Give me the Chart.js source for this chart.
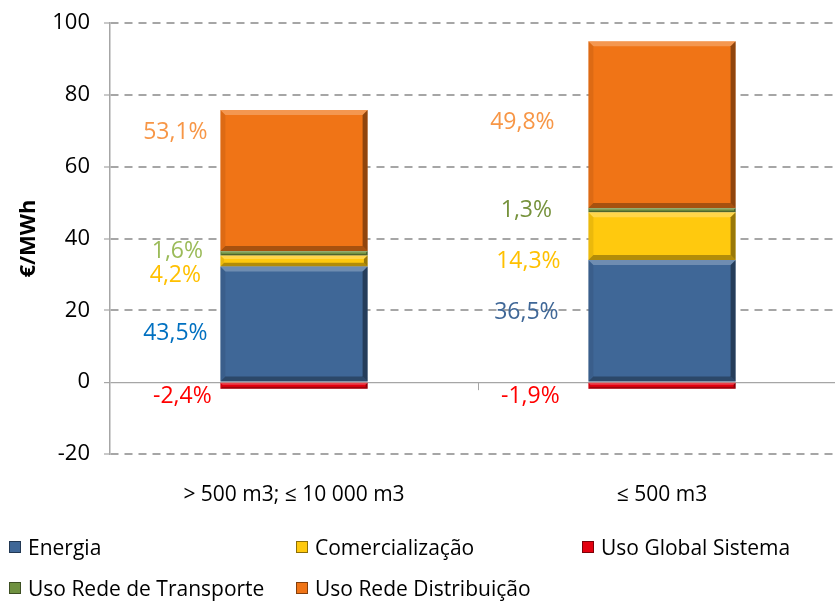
<!DOCTYPE html>
<html>
<head>
<meta charset="utf-8">
<script src="https://cdn.jsdelivr.net/npm/chart.js@4/dist/chart.umd.min.js"></script>
<style>
  html, body { margin: 0; padding: 0; background: #fff; width: 835px; height: 601px; overflow: hidden; }
  #wrap { position: relative; width: 860px; height: 601px; }
  #legend { position: absolute; left: 0; top: 0; width: 835px; height: 601px; pointer-events: none;
            font-family: 'Open Sans', sans-serif; font-size: 21px; color: #000; }
  .item { position: absolute; display: flex; align-items: center; white-space: nowrap; line-height: 24px; }
  .sw { width: 12px; height: 12px; margin-right: 7px; box-sizing: border-box; border: 1px solid rgba(0,0,0,0.45); }
</style>
</head>
<body>
<div id="wrap">
  <canvas id="c" width="860" height="601"></canvas>
  <div id="legend"></div>
</div>
<script>
// ---- data ----
const categories = ['> 500 m3; ≤ 10 000 m3', '≤ 500 m3'];
const seriesNames = ['Energia', 'Comercialização', 'Uso Global Sistema', 'Uso Rede de Transporte', 'Uso Rede Distribuição'];
const energia      = [32.2, 34.0];
const comercial    = [3.1, 13.3];
const usoGlobal    = [-1.8, -1.8];
const transporte   = [1.2, 1.2];
const distribuicao = [39.3, 46.4];
const pctEnergia      = [43.5, 36.5];
const pctComercial    = [4.2, 14.3];
const pctUsoGlobal    = [-2.4, -1.9];
const pctTransporte   = [1.6, 1.3];
const pctDistribuicao = [53.1, 49.8];
const yTicks = [-20, 0, 20, 40, 60, 80, 100];

// ---- styles ----
const fills = ['#3F6797', '#FFC90E', '#E3000F', '#6F9140', '#F07416'];
const labelColors = [
  ['#0070C0', '#3F6797'],
  ['#FFC000', '#FFC000'],
  ['#FF0000', '#FF0000'],
  ['#9BBB59', '#76923C'],
  ['#F79646', '#F79646']
];
// label placement: [distance left of bar edge to text centre, vertical shift from segment centre]
const labelPlacement = [
  [[45, 9], [62, -8]],
  [[45, 15], [60, 25]],
  [[38, 11], [58, 11]],
  [[43, -2], [62, 0]],
  [[45, -48], [66, -2]]
];

const values = [energia, comercial, usoGlobal, transporte, distribuicao];
const pcts = [pctEnergia, pctComercial, pctUsoGlobal, pctTransporte, pctDistribuicao];

Chart.defaults.font.family = "'Open Sans', sans-serif";
Chart.defaults.color = '#000';

const pctLabels = {
  id: 'pctLabels',
  afterDatasetsDraw(chart) {
    const ctx = chart.ctx;
    ctx.save();
    ctx.font = "23px 'Open Sans', sans-serif";
    ctx.textAlign = 'center';
    ctx.textBaseline = 'middle';
    chart.data.datasets.forEach((ds, di) => {
      const meta = chart.getDatasetMeta(di);
      meta.data.forEach((bar, i) => {
        const p = bar.getProps(['x', 'y', 'base', 'width'], true);
        const pl = labelPlacement[di][i];
        ctx.fillStyle = labelColors[di][i];
        const txt = pcts[di][i].toFixed(1).replace('.', ',') + '%';
        ctx.fillText(txt, p.x - p.width / 2 - pl[0], (p.y + p.base) / 2 + pl[1]);
      });
    });
    ctx.restore();
  }
};

const axisExtras = {
  id: 'axisExtras',
  afterDraw(chart) {
    const ctx = chart.ctx;
    const xs = chart.scales.x, ys = chart.scales.y;
    const y0 = ys.getPixelForValue(0);
    const xm = (xs.getPixelForTick(0) + xs.getPixelForTick(1)) / 2;
    ctx.save();
    ctx.strokeStyle = '#A6A6A6';
    ctx.lineWidth = 1;
    ctx.beginPath();
    ctx.moveTo(Math.round(xm) + 0.5, y0);
    ctx.lineTo(Math.round(xm) + 0.5, y0 + 8);
    ctx.stroke();
    ctx.restore();
  }
};

const bevel = {
  id: 'bevel',
  afterDatasetsDraw(chart) {
    const ctx = chart.ctx;
    chart.data.datasets.forEach((ds, di) => {
      chart.getDatasetMeta(di).data.forEach((bar) => {
        const p = bar.getProps(['x', 'y', 'base', 'width'], true);
        const l = p.x - p.width / 2, r = p.x + p.width / 2;
        const t = Math.min(p.y, p.base), b = Math.max(p.y, p.base);
        const h = b - t;
        const e = Math.min(5, h / 3);
        ctx.save();
        ctx.fillStyle = 'rgba(255,255,255,0.25)';
        ctx.beginPath(); ctx.moveTo(l, t); ctx.lineTo(r, t); ctx.lineTo(r - e, t + e); ctx.lineTo(l + e, t + e); ctx.closePath(); ctx.fill();
        ctx.fillStyle = 'rgba(0,0,0,0.4)';
        ctx.beginPath(); ctx.moveTo(r, t); ctx.lineTo(r, b); ctx.lineTo(r - e, b - e); ctx.lineTo(r - e, t + e); ctx.closePath(); ctx.fill();
        ctx.fillStyle = 'rgba(0,0,0,0.3)';
        ctx.beginPath(); ctx.moveTo(l, b); ctx.lineTo(r, b); ctx.lineTo(r - e, b - e); ctx.lineTo(l + e, b - e); ctx.closePath(); ctx.fill();
        ctx.fillStyle = 'rgba(0,0,0,0.08)';
        ctx.beginPath(); ctx.moveTo(l, t); ctx.lineTo(l, b); ctx.lineTo(l + e, b - e); ctx.lineTo(l + e, t + e); ctx.closePath(); ctx.fill();
        ctx.restore();
      });
    });
  }
};

new Chart(document.getElementById('c'), {
  type: 'bar',
  data: {
    labels: categories,
    datasets: seriesNames.map((n, i) => ({
      label: n,
      data: values[i],
      backgroundColor: fills[i],
      borderWidth: 0,
      categoryPercentage: 1,
      barPercentage: 0.4,
      stack: 's'
    }))
  },
  options: {
    responsive: false,
    animation: false,
    layout: { padding: { top: 23, right: 14, left: 0, bottom: 0 } },
    plugins: { legend: { display: false }, tooltip: { enabled: false } },
    scales: {
      x: {
        stacked: true,
        grid: { display: false },
        border: { display: false },
        ticks: { font: { size: 21 }, color: '#000', padding: 20, maxRotation: 0 },
        afterFit(s) { s.height = 147; }
      },
      y: {
        stacked: true,
        min: -20, max: 100,
        afterBuildTicks(s) { s.ticks = yTicks.map(v => ({ value: v })); },
        ticks: { font: { size: 22, lineHeight: 0.5 }, color: '#000', padding: 14 },
        grid: {
          color: '#A6A6A6',
          lineWidth: (c) => (c.tick && c.tick.value === 0 ? 1.2 : 2),
          tickLength: 6,
          tickColor: '#A6A6A6',
          tickWidth: 1.2
        },
        border: {
          display: true, color: '#A6A6A6', width: 1.5,
          dash: (c) => (c.tick && c.tick.value === 0 ? [] : [8, 6])
        },
        title: {
          display: true, text: '€/MWh', color: '#000',
          font: { size: 22, weight: 'bold' },
          padding: { top: 16, bottom: 0 }
        },
        afterFit(s) { s.width = 110; }
      }
    }
  },
  plugins: [bevel, pctLabels, axisExtras]
});

// HTML legend
const legendPos = [[9, 535], [296, 535], [582, 535], [9, 576], [296, 576]];
const lg = document.getElementById('legend');
seriesNames.forEach((n, i) => {
  const d = document.createElement('div');
  d.className = 'item';
  d.style.left = legendPos[i][0] + 'px';
  d.style.top = legendPos[i][1] + 'px';
  const sw = document.createElement('span');
  sw.className = 'sw';
  sw.style.background = fills[i];
  const t = document.createElement('span');
  t.textContent = n;
  d.appendChild(sw); d.appendChild(t);
  lg.appendChild(d);
});
</script>
</body>
</html>
